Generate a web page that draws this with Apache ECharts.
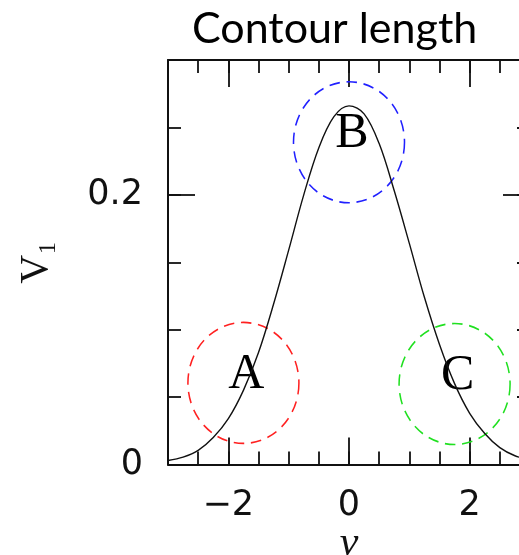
<!DOCTYPE html>
<html>
<head>
<meta charset="utf-8">
<script src="https://cdn.jsdelivr.net/npm/echarts@6/dist/echarts.min.js"></script>
<style>
  html, body { margin: 0; padding: 0; background: #fff; }
  #chart { width: 519px; height: 555px; }
</style>
</head>
<body>
<div id="chart"></div>
<script>
// Profile V1 as a function of nu
const nuValues = [-3, -2.75, -2.5, -2.25, -2, -1.75, -1.5, -1.25, -1, -0.75, -0.5, -0.25,
                  0, 0.25, 0.5, 0.75, 1, 1.25, 1.5, 1.75, 2, 2.25, 2.5, 2.75, 3];
const v1Values = [0.003, 0.0055, 0.0105, 0.020, 0.034, 0.055, 0.083, 0.119, 0.159, 0.200, 0.235, 0.258,
                  0.266, 0.260, 0.238, 0.203, 0.164, 0.124, 0.089, 0.060, 0.038, 0.023, 0.0125, 0.0065, 0.0035];

// Highlighted regions A, B, C
const regionNames = ['A', 'B', 'C'];
const regionNu = [-1.75, 0, 1.75];
const regionV1 = [0.0605, 0.239, 0.0597];
const regionColors = ['#ff2020', '#2020ff', '#20e020'];

// Axis ticks
const xRange = [-3, 3];
const yRange = [0, 0.3];
const xMajorTicks = [-2, 0, 2];
const yMajorTicks = [0, 0.2];
const xMinorStep = 0.5;
const yMinorStep = 0.05;

const chart = echarts.init(document.getElementById('chart'), null, { renderer: 'canvas' });

const tickFont = { fontFamily: 'DejaVu Sans', fontSize: 35, color: '#111' };
const lineStyle = { color: '#111', width: 2 };
const tickLine = { color: '#111', width: 1.8 };

function majorX(position, withLabels) {
  return {
    type: 'value', position: position, min: xRange[0], max: xRange[1],
    axisLine: { show: true, onZero: false, lineStyle: lineStyle },
    axisTick: { show: true, inside: true, length: 27, customValues: xMajorTicks, lineStyle: tickLine },
    axisLabel: withLabels
      ? Object.assign({ show: true, margin: 24, customValues: xMajorTicks,
          formatter: v => (v < 0 ? '\u2212' + Math.abs(v) : String(v)) }, tickFont)
      : { show: false },
    splitLine: { show: false },
    name: withLabels ? '\u03bd' : '',
    nameLocation: 'middle', nameGap: 58, nameMoveOverlap: false,
    nameTextStyle: { fontFamily: 'Liberation Serif', fontStyle: 'italic', fontSize: 42, color: '#111' }
  };
}
function minorX(position) {
  return {
    type: 'value', position: position, min: xRange[0], max: xRange[1], interval: xMinorStep,
    axisLine: { show: false, onZero: false },
    axisTick: { show: true, inside: true, length: 13, lineStyle: tickLine },
    axisLabel: { show: false },
    splitLine: { show: false }
  };
}
function majorY(position, withLabels) {
  return {
    type: 'value', position: position, min: yRange[0], max: yRange[1],
    axisLine: { show: true, onZero: false, lineStyle: lineStyle },
    axisTick: { show: true, inside: true, length: 27, customValues: yMajorTicks, lineStyle: tickLine },
    axisLabel: withLabels
      ? Object.assign({ show: true, margin: 25, customValues: yMajorTicks,
          formatter: v => String(v) }, tickFont)
      : { show: false },
    splitLine: { show: false },
    name: withLabels ? 'V\u2081' : '',
    nameLocation: 'middle', nameGap: 112, nameRotate: 90, nameMoveOverlap: false,
    nameTextStyle: { fontFamily: 'Liberation Serif', fontSize: 40, color: '#111' }
  };
}
function minorY(position) {
  return {
    type: 'value', position: position, min: yRange[0], max: yRange[1], interval: yMinorStep,
    axisLine: { show: false, onZero: false },
    axisTick: { show: true, inside: true, length: 13, lineStyle: tickLine },
    axisLabel: { show: false },
    splitLine: { show: false }
  };
}

const option = {
  backgroundColor: '#fff',
  animation: false,
  title: {
    text: 'Contour length',
    left: 187, top: 3,
    textStyle: { fontFamily: 'Lato', fontWeight: 'normal', fontSize: 43, color: '#000' }
  },
  grid: { left: 168, right: -11, top: 60, bottom: 90.5, containLabel: false, outerBoundsMode: 'none' },
  xAxis: [majorX('bottom', true), minorX('bottom'), majorX('top', false), minorX('top')],
  yAxis: [majorY('left', true), minorY('left'), majorY('right', false), minorY('right')],
  series: [
    {
      type: 'line',
      xAxisIndex: 0, yAxisIndex: 0,
      data: nuValues.map((x, i) => [x, v1Values[i]]),
      smooth: 0.35,
      symbol: 'none',
      lineStyle: { color: '#111', width: 1.4 },
      z: 3
    },
    {
      type: 'scatter',
      xAxisIndex: 0, yAxisIndex: 0,
      symbol: 'circle',
      symbolSize: [111, 121],
      itemStyle: { opacity: 1 },
      data: regionNames.map((n, i) => ({
        name: n,
        value: [regionNu[i], regionV1[i]],
        itemStyle: { color: 'rgba(0,0,0,0)', borderColor: regionColors[i], borderWidth: 1.6, borderType: [11, 7], opacity: 1 }
      })),
      label: {
        show: true,
        position: 'inside',
        formatter: p => p.name,
        offset: [3, -8],
        fontFamily: 'Liberation Serif',
        fontSize: 50,
        color: '#000'
      },
      z: 2
    }
  ]
};

chart.setOption(option);
</script>
</body>
</html>
